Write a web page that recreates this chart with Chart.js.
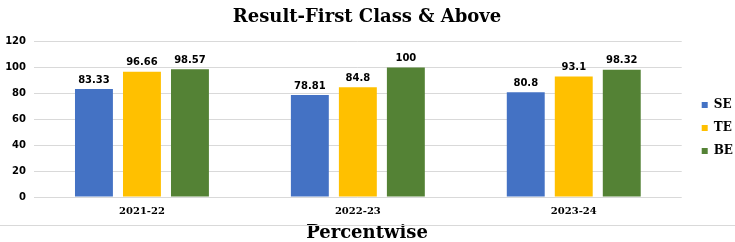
<!DOCTYPE html>
<html>
<head>
<meta charset="utf-8">
<script src="https://cdn.jsdelivr.net/npm/chart.js@4/dist/chart.umd.min.js"></script>
<style>
  body { margin: 0; background: #fff; }
  #chartBox { width: 735px; height: 242px; }
</style>
</head>
<body>
<div id="chartBox"><canvas id="resultChart" width="735" height="242"></canvas></div>
<script>
// --- Data ---
const YEARS = ['2021-22', '2022-23', '2023-24'];
const SE_VALUES = [83.33, 78.81, 80.8];
const TE_VALUES = [96.66, 84.8, 93.1];
const BE_VALUES = [98.57, 100, 98.32];
const Y_TICKS = [0, 20, 40, 60, 80, 100, 120];

const SERIF = '"DejaVu Serif", serif';
const SANS = '"DejaVu Sans", sans-serif';

// draws the value above each bar
const valueLabels = {
    id: 'valueLabels',
    afterDatasetsDraw(chart) {
        const ctx = chart.ctx;
        ctx.save();
        ctx.font = 'bold 10px ' + SANS;
        ctx.fillStyle = '#000';
        ctx.textAlign = 'center';
        ctx.textBaseline = 'bottom';
        chart.data.datasets.forEach((ds, i) => {
            chart.getDatasetMeta(i).data.forEach((bar, j) => {
                ctx.fillText(String(ds.data[j]), bar.x, bar.y - 4);
            });
        });
        ctx.restore();
    }
};

// thin divider between the axis labels and the bottom caption
const dividerLine = {
    id: 'dividerLine',
    afterDraw(chart) {
        const ctx = chart.ctx;
        const y = Math.round(chart.chartArea.bottom) + 28.5;
        ctx.save();
        ctx.strokeStyle = '#d9d9d9';
        ctx.lineWidth = 1;
        ctx.beginPath();
        ctx.moveTo(0, y);
        ctx.lineTo(chart.width, y);
        ctx.stroke();
        ctx.restore();
    }
};

// move the legend block a little, away from the plot edge
const legendNudge = {
    id: 'legendNudge',
    afterLayout(chart) {
        const lg = chart.legend;
        lg.left += 9; lg.right += 9;
        lg.top += 7; lg.bottom += 7;
    }
};

const barOpts = { categoryPercentage: 0.667, barPercentage: 0.79 };

new Chart(document.getElementById('resultChart'), {
    type: 'bar',
    data: {
        labels: YEARS,
        datasets: [
            { label: 'SE', data: SE_VALUES, backgroundColor: '#4472C4', ...barOpts },
            { label: 'TE', data: TE_VALUES, backgroundColor: '#FFC000', ...barOpts },
            { label: 'BE', data: BE_VALUES, backgroundColor: '#548235', ...barOpts }
        ]
    },
    options: {
        responsive: false,
        animation: false,
        layout: { padding: { left: 0, right: 1, top: 0, bottom: 0 } },
        plugins: {
            title: {
                display: true,
                text: 'Result-First Class & Above',
                color: '#000',
                font: { family: SERIF, size: 18, weight: 'bold', lineHeight: 1.2 },
                padding: { top: 7, bottom: 13 }
            },
            subtitle: {
                display: true,
                position: 'bottom',
                text: 'Percentwise',
                color: '#000',
                font: { family: SERIF, size: 18, weight: 'bold', lineHeight: 1 },
                padding: { top: 0, bottom: 0 }
            },
            legend: {
                position: 'right',
                labels: {
                    boxWidth: 6,
                    boxHeight: 6,
                    padding: 11,
                    color: '#000',
                    font: { family: SERIF, size: 12, weight: 'bold' }
                }
            },
            tooltip: { enabled: false }
        },
        scales: {
            x: {
                grid: { display: false },
                border: { display: false },
                afterFit: axis => { axis.height = 27; },
                ticks: {
                    color: '#000',
                    padding: 0,
                    font: { family: SERIF, size: 10, weight: 'bold' }
                }
            },
            y: {
                min: Y_TICKS[0],
                max: Y_TICKS[Y_TICKS.length - 1],
                border: { display: false },
                grid: { color: '#d9d9d9', drawTicks: false },
                afterFit: axis => { axis.width = 34; },
                afterBuildTicks: axis => { axis.ticks = Y_TICKS.map(v => ({ value: v })); },
                ticks: {
                    color: '#000',
                    padding: 8,
                    font: { family: SANS, size: 10, weight: 'bold' }
                }
            }
        }
    },
    plugins: [valueLabels, dividerLine, legendNudge]
});
</script>
</body>
</html>
